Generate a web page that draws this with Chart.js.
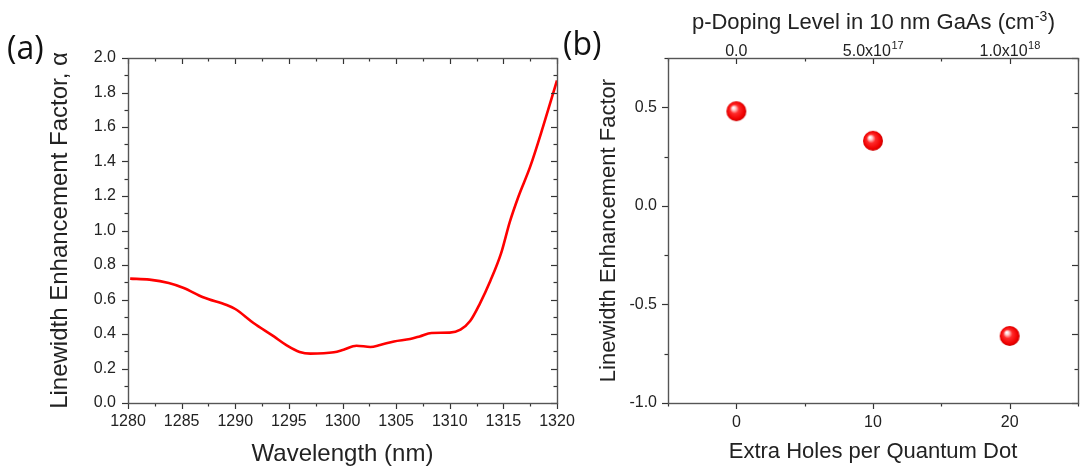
<!DOCTYPE html>
<html>
<head>
<meta charset="utf-8">
<script src="https://cdn.jsdelivr.net/npm/chart.js@4.4.1/dist/chart.umd.min.js"></script>
<style>
  html, body { margin: 0; padding: 0; background: #fff; }
  #wrap { position: relative; width: 1089px; height: 471px; overflow: hidden; }
  canvas { position: absolute; top: 0; }
  #chart-a { left: 0; }
  #chart-b { left: 560px; }
  .tag { position: absolute; font-family: "Open Sans", sans-serif; font-size: 32px; color: #111; line-height: 1; }
</style>
</head>
<body>
<div id="wrap">
  <canvas id="chart-a" width="585" height="471"></canvas>
  <canvas id="chart-b" width="529" height="471"></canvas>
  <div class="tag" style="left:7px; top:31px">(a)</div>
  <div class="tag" style="left:563px; top:27px">(b)</div>
</div>
<script>
// (a) alpha factor vs wavelength
const wavelength = [1280.2, 1282, 1283.8, 1285.2, 1287, 1289.2, 1290, 1291.7, 1293.6, 1294.8,
  1296, 1297, 1299.2, 1300.1, 1301.3, 1302.6, 1303.5, 1304.8, 1306.3, 1307.2,
  1308.3, 1310, 1311, 1311.9, 1312.8, 1313.8, 1314.8, 1315.6, 1316.4, 1317.5, 1318.7, 1320];
const alphaSpectrum = [0.721, 0.715, 0.696, 0.667, 0.613, 0.568, 0.545, 0.464, 0.386, 0.334,
  0.296, 0.286, 0.294, 0.309, 0.332, 0.325, 0.336, 0.357, 0.371, 0.386,
  0.406, 0.408, 0.425, 0.475, 0.575, 0.71, 0.87, 1.05, 1.196, 1.37, 1.602, 1.87];

// (b) alpha factor vs extra holes per dot
const extraHoles = [0, 10, 20];
const alphaDoped = [0.48, 0.33, -0.66];
const holeTicks = [0, 10, 20];
const alphaTicksB = [-1, -0.5, 0, 0.5];
const dopingTicks = [0, 5e17, 1e18];
const dopingMantissa = ['0.0', '5.0x10', '1.0x10'];
const dopingExponent = ['', '17', '18'];

const ink = '#222';
const family = 'Liberation Sans, Arial, sans-serif';

// Origin-style frame with minor ticks (Chart.js has no minor ticks)
const frameTicks = {
  id: 'frameTicks',
  afterDatasetsDraw(chart, args, opts) {
    const { ctx, chartArea: a } = chart;
    ctx.save();
    ctx.strokeStyle = '#333';
    ctx.lineWidth = 1.2;
    for (const m of opts.marks) {
      const scale = chart.scales[m.scale];
      const n = Math.round((m.max - m.min) / m.step);
      for (let i = 0; i <= n; i++) {
        const v = m.min + i * m.step;
        const len = (i - m.phase) % 2 === 0 ? 6 : 3.5;
        const p = Math.round(scale.getPixelForValue(v)) + 0.5;
        ctx.beginPath();
        if (m.edge === 'bottom') { ctx.moveTo(p, a.bottom); ctx.lineTo(p, a.bottom + len); }
        else if (m.edge === 'top') { ctx.moveTo(p, a.top); ctx.lineTo(p, a.top + len); }
        else if (m.edge === 'left') { ctx.moveTo(a.left, p); ctx.lineTo(a.left - len, p); }
        else { ctx.moveTo(a.right, p); ctx.lineTo(a.right - len, p); }
        ctx.stroke();
      }
    }
    ctx.strokeStyle = '#555';
    ctx.lineWidth = 1.4;
    ctx.strokeRect(Math.round(a.left) + 0.5, Math.round(a.top) + 0.5,
      Math.round(a.right - a.left), Math.round(a.bottom - a.top));
    ctx.restore();
  }
};

// text with a raised exponent, centred on x
function drawPower(ctx, x, y, base, sup, size, supSize, rise, tail) {
  ctx.font = `${size}px ${family}`;
  const w1 = ctx.measureText(base).width;
  const w3 = tail ? ctx.measureText(tail).width : 0;
  ctx.font = `${supSize}px ${family}`;
  const w2 = ctx.measureText(sup).width;
  const x0 = x - (w1 + w2 + w3) / 2;
  ctx.font = `${size}px ${family}`;
  ctx.fillText(base, x0, y);
  if (tail) ctx.fillText(tail, x0 + w1 + w2 + 1, y);
  ctx.font = `${supSize}px ${family}`;
  ctx.fillText(sup, x0 + w1 + 0.5, y - rise);
}

// top axis of (b): doping labels and title need real superscripts
const powerLabels = {
  id: 'powerLabels',
  afterDraw(chart) {
    const { ctx, chartArea: a } = chart;
    const scale = chart.scales.x2;
    ctx.save();
    ctx.fillStyle = ink;
    ctx.textBaseline = 'alphabetic';
    dopingTicks.forEach((v, i) => {
      drawPower(ctx, scale.getPixelForValue(v), 56, dopingMantissa[i], dopingExponent[i], 16, 11, 7);
    });
    drawPower(ctx, (a.left + a.right) / 2, 29, 'p-Doping Level in 10 nm GaAs (cm', '-3', 22, 14, 8, ')');
    ctx.restore();
  }
};

function makeSphere(r) {
  const c = document.createElement('canvas');
  c.width = c.height = r * 2 + 2;
  const g = c.getContext('2d');
  const cx = r + 1;
  const grad = g.createRadialGradient(cx - 3, cx - 3.5, 0.5, cx, cx, r + 0.5);
  grad.addColorStop(0, '#ffffff');
  grad.addColorStop(0.15, '#ffc8c8');
  grad.addColorStop(0.4, '#ff2a2a');
  grad.addColorStop(0.8, '#f00000');
  grad.addColorStop(1, '#c00000');
  g.fillStyle = grad;
  g.beginPath();
  g.arc(cx, cx, r, 0, Math.PI * 2);
  g.fill();
  return c;
}

const hidden = { display: false, drawTicks: false };

// keep the plot box fixed: no extra room for overhanging end labels
function fixBox(size) {
  return function (s) {
    if (s.isHorizontal()) s.height = size; else s.width = size;
    s.paddingLeft = s.paddingRight = s.paddingTop = s.paddingBottom = 0;
  };
}

new Chart(document.getElementById('chart-a'), {
  type: 'line',
  data: {
    datasets: [{
      data: wavelength.map((x, i) => ({ x, y: alphaSpectrum[i] })),
      borderColor: '#ff0000',
      borderWidth: 2.6,
      pointRadius: 0,
      cubicInterpolationMode: 'monotone',
    }],
  },
  options: {
    responsive: false,
    animation: false,
    layout: { padding: { top: 58, right: 28 } },
    plugins: {
      legend: { display: false },
      tooltip: { enabled: false },
      frameTicks: {
        marks: [
          { scale: 'x', edge: 'bottom', min: 1280, max: 1320, step: 2.5, phase: 0 },
          { scale: 'x', edge: 'top', min: 1280, max: 1320, step: 2.5, phase: 0 },
          { scale: 'y', edge: 'left', min: 0, max: 2, step: 0.1, phase: 0 },
          { scale: 'y', edge: 'right', min: 0, max: 2, step: 0.1, phase: 0 },
        ],
      },
    },
    scales: {
      x: {
        type: 'linear',
        min: 1280,
        max: 1320,
        afterFit: fixBox(68),
        grid: hidden,
        border: { display: false },
        ticks: { stepSize: 5, padding: 9, color: ink, font: { family, size: 16 }, maxRotation: 0, callback: (v) => String(v) },
        title: { display: true, text: 'Wavelength (nm)', color: ink, font: { family, size: 24 }, padding: { top: 0, bottom: 2 } },
      },
      y: {
        min: 0,
        max: 2,
        afterFit: fixBox(128),
        grid: hidden,
        border: { display: false },
        ticks: { stepSize: 0.2, padding: 12, color: ink, font: { family, size: 16 }, callback: (v) => v.toFixed(1) },
        title: { display: true, text: 'Linewidth Enhancement Factor, α', color: ink, font: { family, size: 24 }, padding: { top: 46, bottom: 0 } },
      },
    },
  },
  plugins: [frameTicks],
});

new Chart(document.getElementById('chart-b'), {
  type: 'scatter',
  data: {
    datasets: [{
      data: extraHoles.map((x, i) => ({ x, y: alphaDoped[i] })),
      pointStyle: makeSphere(10),
      pointRadius: 10,
    }],
  },
  options: {
    responsive: false,
    animation: false,
    layout: { padding: { right: 2 } },
    plugins: {
      legend: { display: false },
      tooltip: { enabled: false },
      frameTicks: {
        marks: [
          { scale: 'x', edge: 'bottom', min: -5, max: 25, step: 5, phase: 1 },
          { scale: 'x', edge: 'top', min: -5, max: 25, step: 5, phase: 1 },
          { scale: 'y', edge: 'left', min: -1, max: 0.75, step: 0.25, phase: 0 },
          { scale: 'y', edge: 'right', min: -1, max: 0.75, step: 0.175, phase: 0 },
        ],
      },
    },
    scales: {
      x: {
        type: 'linear',
        min: -5,
        max: 25,
        afterBuildTicks(s) { s.ticks = holeTicks.map((value) => ({ value })); },
        afterFit: fixBox(68),
        grid: hidden,
        border: { display: false },
        ticks: { padding: 10, color: ink, font: { family, size: 16 }, maxRotation: 0 },
        title: { display: true, text: 'Extra Holes per Quantum Dot', color: ink, font: { family, size: 22 }, padding: { top: 0, bottom: 6 } },
      },
      x2: {
        type: 'linear',
        position: 'top',
        min: -2.5e17,
        max: 1.25e18,
        afterBuildTicks(s) { s.ticks = dopingTicks.map((value) => ({ value })); },
        afterFit: fixBox(58),
        grid: hidden,
        border: { display: false },
        ticks: { display: false },
      },
      y: {
        min: -1,
        max: 0.75,
        afterBuildTicks(s) { s.ticks = alphaTicksB.map((value) => ({ value })); },
        afterFit: fixBox(108),
        grid: hidden,
        border: { display: false },
        ticks: { padding: 11, color: ink, font: { family, size: 16 }, callback: (v) => v.toFixed(1) },
        title: { display: true, text: 'Linewidth Enhancement Factor', color: ink, font: { family, size: 22 }, padding: { top: 36, bottom: 0 } },
      },
    },
  },
  plugins: [frameTicks, powerLabels],
});
</script>
</body>
</html>
